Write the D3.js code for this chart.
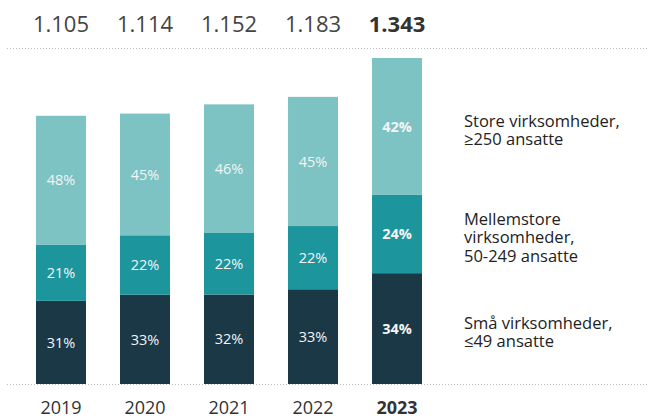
<!DOCTYPE html>
<html>
<head>
<meta charset="utf-8">
<script src="https://cdn.jsdelivr.net/npm/d3@7"></script>
<style>
  html, body { margin: 0; padding: 0; background: #fff; }
  svg { display: block; font-family: "Open Sans", "Noto Sans", sans-serif; }
</style>
</head>
<body>
<svg id="chart" width="648" height="417"></svg>
<script>
// Data
const years = ["2019", "2020", "2021", "2022", "2023"];
const totals = [1105, 1114, 1152, 1183, 1343];
const totalLabels = ["1.105", "1.114", "1.152", "1.183", "1.343"];
const smallPct = [31, 33, 32, 33, 34];   // Små virksomheder
const midPct = [21, 22, 22, 22, 24];     // Mellemstore
const largePct = [48, 45, 46, 45, 42];   // Store
const seriesNames = ["Små virksomheder,\n≤49 ansatte", "Mellemstore\nvirksomheder,\n50-249 ansatte", "Store virksomheder,\n≥250 ansatte"];
const seriesColors = ["#1b3846", "#1c959c", "#7ec3c3"];
const textColors = ["#f4f4f4", "#f4f4f4", "#f4f4f4"];

const svg = d3.select("#chart");
const W = 648, H = 417;
const baseY = 384, topY = 58;

const x = d3.scaleBand().domain(years).range([36, 422]).paddingInner(0.405).paddingOuter(0);
const y = d3.scaleLinear().domain([0, d3.max(totals)]).range([baseY, topY]);

// Build stacked data
const pcts = [smallPct, midPct, largePct];
const rows = years.map((yr, i) => {
  let acc = 0;
  return pcts.map((arr, s) => {
    const v = totals[i] * arr[i] / 100;
    const seg = { year: yr, i, s, pct: arr[i], y0: acc, y1: acc + v };
    acc += v;
    return seg;
  });
});

// dotted lines
svg.append("line").attr("x1", 7).attr("x2", W).attr("y1", 48.5).attr("y2", 48.5)
  .attr("stroke", "#bdbdbd").attr("stroke-width", 1).attr("stroke-dasharray", "1,2");
svg.append("line").attr("x1", 7).attr("x2", W).attr("y1", 384.5).attr("y2", 384.5)
  .attr("stroke", "#bdbdbd").attr("stroke-width", 1).attr("stroke-dasharray", "1,2");

// bars
const g = svg.append("g");
rows.forEach(segs => {
  segs.forEach(d => {
    g.append("rect")
      .attr("x", x(d.year))
      .attr("width", x.bandwidth())
      .attr("y", y(d.y1))
      .attr("height", y(d.y0) - y(d.y1))
      .attr("fill", seriesColors[d.s]);
    g.append("text")
      .attr("x", x(d.year) + x.bandwidth() / 2)
      .attr("y", (y(d.y0) + y(d.y1)) / 2)
      .attr("dy", "0.36em")
      .attr("text-anchor", "middle")
      .attr("font-size", "14.5px")
      .attr("font-weight", d.i === years.length - 1 ? 700 : 400)
      .attr("fill", textColors[d.s])
      .text(d.pct + "%");
  });
});

// totals on top
svg.append("g").selectAll("text").data(years).join("text")
  .attr("x", d => x(d) + x.bandwidth() / 2)
  .attr("y", 32)
  .attr("text-anchor", "middle")
  .attr("font-size", "22px")
  .attr("font-weight", (d, i) => i === years.length - 1 ? 700 : 400)
  .attr("fill", (d, i) => i === years.length - 1 ? "#333" : "#444")
  .text((d, i) => totalLabels[i]);

// x axis labels
const xAxis = d3.axisBottom(x).tickSize(0).tickPadding(0);
const ax = svg.append("g").attr("transform", `translate(0, 400)`).call(xAxis);
ax.select(".domain").remove();
ax.selectAll("text")
  .attr("dy", "0.75em")
  .attr("y", 0)
  .attr("font-size", "18px")
  .attr("font-family", "\"Open Sans\", \"Noto Sans\", sans-serif")
  .attr("fill", "#333")
  .attr("font-weight", (d, i) => i === years.length - 1 ? 700 : 400);

// legend aligned with last bar's segments
const last = rows[rows.length - 1];
const lineH = 18.5;
last.forEach(d => {
  const lines = seriesNames[d.s].split("\n");
  const cy = (y(d.y0) + y(d.y1)) / 2 + 3.5;
  const startY = cy - (lines.length - 1) * lineH / 2;
  lines.forEach((ln, k) => {
    svg.append("text")
      .attr("x", 464)
      .attr("y", startY + k * lineH)
      .attr("dy", "0.36em")
      .attr("font-size", "16.5px")
      .attr("fill", "#222")
      .text(ln);
  });
});
</script>
</body>
</html>
